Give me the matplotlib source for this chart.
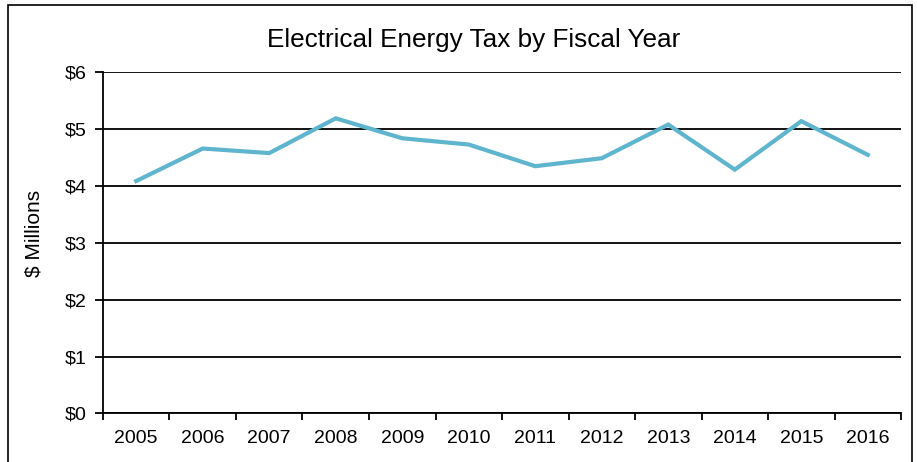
import matplotlib.pyplot as plt
from matplotlib.patches import Rectangle
import numpy as np

plt.rcParams['font.family'] = ['Liberation Sans', 'DejaVu Sans']

# Data
years = ["2005", "2006", "2007", "2008", "2009", "2010",
         "2011", "2012", "2013", "2014", "2015", "2016"]
tax = [4.08, 4.65, 4.57, 5.18, 4.83, 4.72, 4.34, 4.48, 5.07, 4.28, 5.13, 4.54]
y_ticks = [0, 1, 2, 3, 4, 5, 6]
y_labels = ["$0", "$1", "$2", "$3", "$4", "$5", "$6"]

fig = plt.figure(figsize=(9.17, 4.62), dpi=100)
ax = fig.add_axes([0.1123, 0.105, 0.8703, 0.74])

x = np.arange(len(years))
ax.plot(x, tax, color="#5fb5cd", linewidth=3, solid_joinstyle="miter", zorder=3)

ax.set_xlim(-0.5, len(years) - 0.5)
ax.set_ylim(0, 6)

# category boundaries get the tick marks, labels go in the middle
ax.set_xticks(np.arange(len(years) + 1) - 0.5)
ax.set_xticklabels([])
ax.set_xticks(x, minor=True)
ax.set_xticklabels(years, minor=True, fontsize=14)
ax.tick_params(axis="x", which="major", direction="out", length=5, width=1.3)
ax.tick_params(axis="x", which="minor", length=0, pad=12)

ax.set_yticks(y_ticks)
ax.set_yticklabels(y_labels, fontsize=14)
ax.tick_params(axis="y", direction="out", length=6, width=1.3, pad=6)

ax.grid(axis="y", color="black", linewidth=1.3)
ax.set_axisbelow(True)

for side in ["top", "right"]:
    ax.spines[side].set_visible(False)
ax.spines["left"].set_linewidth(1.3)
ax.spines["bottom"].set_linewidth(1.3)

ax.set_ylabel("$ Millions", fontsize=15)
ax.yaxis.set_label_coords(-0.074, 0.526)

fig.text(0.517, 0.913, "Electrical Energy Tax by Fiscal Year", ha="center",
         va="center", fontsize=18.8)

# chart border
fig.patches.append(Rectangle((8 / 917, -0.05), 904 / 917, 1 - 5 / 462 + 0.05,
                             transform=fig.transFigure, fill=False,
                             edgecolor="black", linewidth=1.2))

fig.savefig("out.png", dpi=100)
